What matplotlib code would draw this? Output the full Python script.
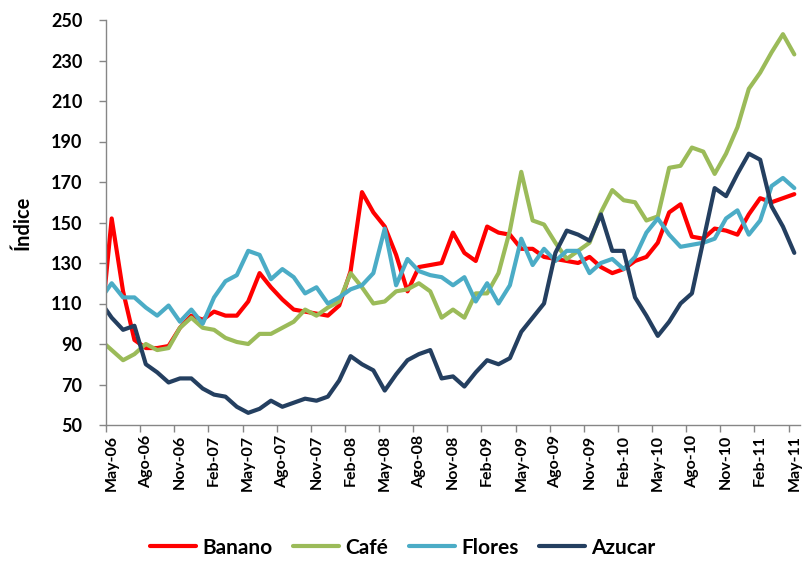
import numpy as np
import matplotlib.pyplot as plt

plt.rcParams['font.family'] = ['Lato', 'DejaVu Sans']
plt.rcParams['font.weight'] = 'bold'

# meses (Abr-06 queda recortado a la izquierda del eje)
meses = ['Abr-06', 'May-06', 'Jun-06', 'Jul-06', 'Ago-06', 'Sep-06', 'Oct-06', 'Nov-06', 'Dic-06',
         'Ene-07', 'Feb-07', 'Mar-07', 'Abr-07', 'May-07', 'Jun-07', 'Jul-07', 'Ago-07', 'Sep-07',
         'Oct-07', 'Nov-07', 'Dic-07', 'Ene-08', 'Feb-08', 'Mar-08', 'Abr-08', 'May-08', 'Jun-08',
         'Jul-08', 'Ago-08', 'Sep-08', 'Oct-08', 'Nov-08', 'Dic-08', 'Ene-09', 'Feb-09', 'Mar-09',
         'Abr-09', 'May-09', 'Jun-09', 'Jul-09', 'Ago-09', 'Sep-09', 'Oct-09', 'Nov-09', 'Dic-09',
         'Ene-10', 'Feb-10', 'Mar-10', 'Abr-10', 'May-10', 'Jun-10', 'Jul-10', 'Ago-10', 'Sep-10',
         'Oct-10', 'Nov-10', 'Dic-10', 'Ene-11', 'Feb-11', 'Mar-11', 'Abr-11', 'May-11']

banano = [94, 152, 116, 92, 88, 88, 89, 98, 104, 102, 106, 104, 104, 111, 125, 118, 112, 107,
          106, 105, 104, 109, 126, 165, 155, 148, 134, 116, 128, 129, 130, 145, 135, 131, 148,
          145, 144, 137, 137, 133, 132, 131, 130, 133, 128, 125, 127, 131, 133, 140, 155, 159,
          143, 142, 147, 146, 144, 154, 162, 160, 162, 164]
cafe = [92, 87, 82, 85, 90, 87, 88, 98, 103, 98, 97, 93, 91, 90, 95, 95, 98, 101, 107, 104,
        108, 111, 125, 118, 110, 111, 116, 117, 120, 116, 103, 107, 103, 115, 115, 125, 146,
        175, 151, 149, 140, 132, 136, 140, 155, 166, 161, 160, 151, 153, 177, 178, 187, 185,
        174, 184, 197, 216, 224, 234, 243, 233]
flores = [112, 120, 113, 113, 108, 104, 109, 101, 107, 100, 113, 121, 124, 136, 134, 122, 127,
          123, 115, 118, 110, 113, 117, 119, 125, 147, 119, 132, 126, 124, 123, 119, 123, 111,
          120, 110, 119, 142, 129, 137, 131, 136, 136, 125, 130, 132, 127, 133, 145, 152, 144,
          138, 139, 140, 142, 152, 156, 144, 151, 168, 172, 167]
azucar = [111, 103, 97, 99, 80, 76, 71, 73, 73, 68, 65, 64, 59, 56, 58, 62, 59, 61, 63, 62,
          64, 72, 84, 80, 77, 67, 75, 82, 85, 87, 73, 74, 69, 76, 82, 80, 83, 96, 103, 110, 135,
          146, 144, 141, 154, 136, 136, 113, 104, 94, 101, 110, 115, 141, 167, 163, 174, 184,
          181, 158, 148, 135]

series = [('Banano', banano, '#FF0000'),
          ('Café', cafe, '#9BBB59'),
          ('Flores', flores, '#4BACC6'),
          ('Azucar', azucar, '#243F60')]

x = np.arange(len(meses)) - 1  # May-06 -> 0

fig = plt.figure(figsize=(8.06, 5.61), dpi=100)
ax = fig.add_axes([106 / 806, 1 - 425 / 561, 694 / 806, 405 / 561])

for nombre, vals, color in series:
    ax.plot(x, vals, color=color, lw=3.0, label=nombre,
            solid_joinstyle='round', solid_capstyle='round')

ax.set_xlim(-0.5, 60.5)
ax.set_ylim(50, 250)
ax.set_yticks(np.arange(50, 251, 20))

# marcas entre categorias, etiquetas centradas cada 3 meses
ax.set_xticks(np.arange(-0.5, 60, 3))
ax.set_xticklabels([])
ax.set_xticks(x[1::3], minor=True)
ax.set_xticklabels(meses[1::3], minor=True, rotation=90, fontsize=11.5, fontweight='bold')
ax.tick_params(axis='x', which='minor', length=0, pad=7)
ax.tick_params(axis='x', which='major', length=5, color='#868686', width=1)
ax.tick_params(axis='y', length=5, color='#868686', width=1, labelsize=13, pad=12)
for lab in ax.get_yticklabels():
    lab.set_fontweight('bold')

for s in ['top', 'right']:
    ax.spines[s].set_visible(False)
for s in ['left', 'bottom']:
    ax.spines[s].set_color('#868686')
    ax.spines[s].set_linewidth(1)

ax.set_ylabel('Índice', fontsize=14.5, fontweight='bold', labelpad=13)

fig.legend(loc='center', bbox_to_anchor=(0.5, 0.024), ncol=4, frameon=False,
           handlelength=2.2, handletextpad=0.3, columnspacing=1.0,
           prop={'weight': 'bold', 'size': 15})

fig.savefig('out.png', dpi=100)
